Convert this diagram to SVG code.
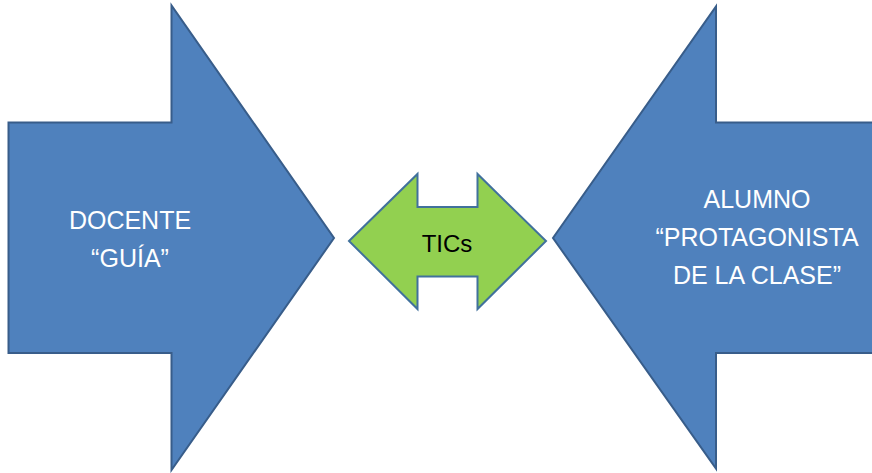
<svg xmlns="http://www.w3.org/2000/svg" width="872" height="473" viewBox="0 0 872 473">
<style>
.blue{fill:#4F81BD;stroke:#385D8A;stroke-width:2;stroke-linejoin:miter}
.green{fill:#92D050;stroke:#41719C;stroke-width:2}
.wt{font-family:"Liberation Sans",Arial,sans-serif;font-size:25px;fill:#FFFFFF;text-anchor:middle}
.bt{font-family:"Liberation Sans",Arial,sans-serif;font-size:24px;fill:#000000;text-anchor:middle}
</style>
<rect width="872" height="473" fill="#FFFFFF"/>
<g id="docente">
<polygon class="blue" points="8.5,122.5 171.5,122.5 171.5,5.5 334,238 171.5,470 171.5,353 8.5,353"/>
<text class="wt" x="130" y="229">DOCENTE</text>
<text class="wt" x="130" y="267">“GUÍA”</text>
</g>
<g id="tics">
<polygon class="green" points="349,241 417.5,174 417.5,207 477.5,207 477.5,174 546,241 477.5,309 477.5,276.5 417.5,276.5 417.5,309"/>
<text class="bt" x="447" y="252">TICs</text>
</g>
<g id="alumno">
<polygon class="blue" points="880,122.5 716,122.5 716,6.5 553,238 716,468.5 716,353 880,353"/>
<text class="wt" x="757" y="208">ALUMNO</text>
<text class="wt" x="757" y="246">“PROTAGONISTA</text>
<text class="wt" x="757" y="284">DE LA CLASE”</text>
</g>
<g id="connectors"></g>
</svg>
